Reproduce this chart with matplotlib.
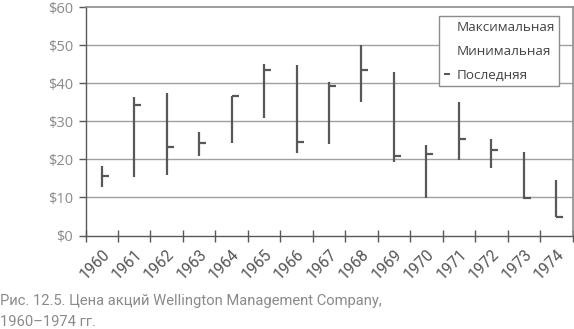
import matplotlib
matplotlib.use("Agg")
import matplotlib.pyplot as plt
from matplotlib.lines import Line2D
import matplotlib.transforms as mtransforms
import numpy as np

years = ["1960", "1961", "1962", "1963", "1964", "1965", "1966", "1967",
         "1968", "1969", "1970", "1971", "1972", "1973", "1974"]
high = [18.3, 36.5, 37.4, 27.2, 36.6, 45.0, 44.8, 40.4, 50.0, 43.0, 23.8, 35.1, 25.4, 21.9, 14.5]
low = [12.8, 15.5, 15.8, 20.9, 24.3, 30.8, 21.8, 24.1, 35.2, 19.4, 9.9, 19.9, 17.7, 9.6, 4.8]
close = [15.7, 34.4, 23.4, 24.4, 36.6, 43.5, 24.6, 39.4, 43.6, 21.0, 21.4, 25.5, 22.5, 9.9, 4.9]
yticks = [0, 10, 20, 30, 40, 50, 60]
ytick_labels = ["$0", "$10", "$20", "$30", "$40", "$50", "$60"]
legend_labels = ["Максимальная", "Минимальная", "Последняя"]
caption_lines = ["Рис. 12.5. Цена акций Wellington Management Company,", "1960–1974 гг."]

bar_color = "#58585a"
grid_color = "#a0a0a0"
text_gray = "#8a8a8a"

fig = plt.figure(figsize=(5.74, 3.29), dpi=100)
ax = fig.add_axes([85.5/574, 1-235.5/329, (572.5-85.5)/574, (235.5-7.3)/329])

x = np.arange(len(years))
ax.vlines(x, low, high, color=bar_color, lw=1.6, zorder=3)
ax.plot(x, close, linestyle="none", marker=1, markersize=5, markeredgewidth=1.6,
        color=bar_color, zorder=3)

ax.set_xlim(-0.5, len(years) - 0.5)
ax.set_ylim(0, 60)
ax.set_yticks(yticks)
ax.set_yticklabels(ytick_labels, fontsize=10.5, color=text_gray, family=["Open Sans", "DejaVu Sans"])
for v in yticks[1:-1]:
    ax.axhline(v, color=grid_color, lw=1.0, zorder=1)

ax.set_xticks(np.arange(-0.5, len(years) + 0.5, 1.0))
ax.set_xticklabels([])
ax.set_xticks(x, minor=True)
ax.set_xticklabels(years, minor=True, rotation=45, ha="right", va="top",
                   rotation_mode="anchor", fontsize=11.3, color="#555555",
                   family=["Roboto", "DejaVu Sans"])
offset = mtransforms.ScaledTranslation(-2/100, 0, fig.dpi_scale_trans)
for lab in ax.get_xticklabels(minor=True):
    lab.set_transform(lab.get_transform() + offset)
ax.tick_params(axis="x", which="major", direction="inout", length=8, width=1, color=bar_color)
ax.tick_params(axis="x", which="minor", length=0, pad=8)
ax.tick_params(axis="y", direction="out", length=5, width=1, color=bar_color, pad=4)

for s in ["left", "bottom"]:
    ax.spines[s].set_color(bar_color)
    ax.spines[s].set_linewidth(1.0)
for s in ["top", "right"]:
    ax.spines[s].set_color("#8c8c8c")
    ax.spines[s].set_linewidth(1.2)

handles = [Line2D([], [], linestyle="none"),
           Line2D([], [], linestyle="none"),
           Line2D([], [], linestyle="none", marker="_", markersize=5, markeredgewidth=1.5,
                  color=bar_color)]
leg = ax.legend(handles, legend_labels, loc="upper right", bbox_to_anchor=(0.973, 0.961),
                frameon=True, fancybox=False, edgecolor="#8c8c8c", framealpha=1,
                prop={"family": ["Open Sans", "DejaVu Sans"], "size": 9.7},
                labelspacing=0.8, handlelength=0.4, handletextpad=0.5,
                borderpad=0.35, borderaxespad=0)
leg.get_frame().set_linewidth(1.0)
for t in leg.get_texts():
    t.set_color("#444444")

fig.text(0.0, 1-305.5/329, caption_lines[0], fontsize=10.6, color="#8a8a8a", ha="left",
         va="baseline", family=["Roboto", "DejaVu Sans"])
fig.text(0.0, 1-325.5/329, caption_lines[1], fontsize=10.6, color="#8a8a8a", ha="left",
         va="baseline", family=["Roboto", "DejaVu Sans"])

fig.savefig("out.png", dpi=100)
